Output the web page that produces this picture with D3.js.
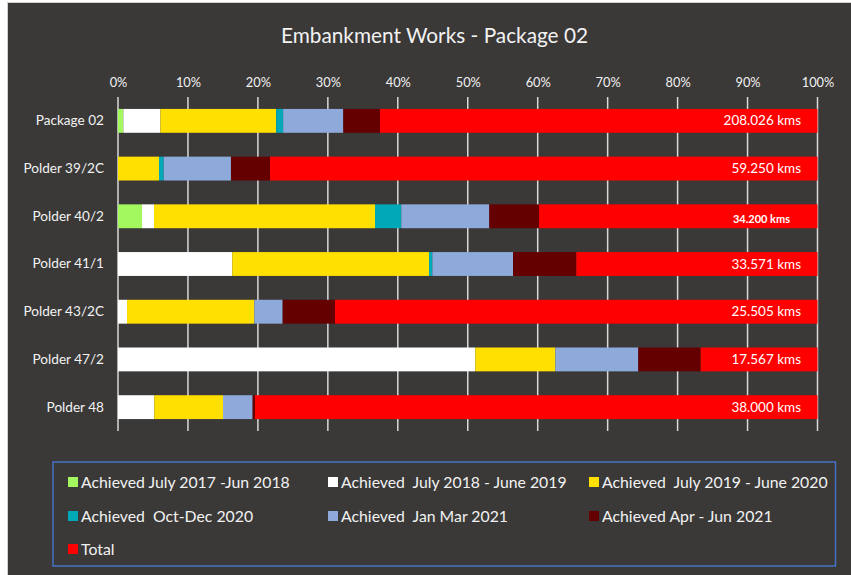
<!DOCTYPE html>
<html><head><meta charset="utf-8">
<script src="https://cdn.jsdelivr.net/npm/d3@7"></script>
<style>
html,body{margin:0;padding:0;background:#fff;}
svg{display:block;font-family:Lato,"Open Sans",sans-serif;}
</style></head>
<body>
<svg id="c" width="851" height="575"></svg>
<script>
const categories = ["Package 02","Polder 39/2C","Polder 40/2","Polder 41/1","Polder 43/2C","Polder 47/2","Polder 48"];
const seriesNames = ["Achieved July 2017 -Jun 2018","Achieved  July 2018 - June 2019","Achieved  July 2019 - June 2020","Achieved  Oct-Dec 2020","Achieved  Jan Mar 2021","Achieved Apr - Jun 2021","Total"];
const seriesColors = ["#a3f75f","#ffffff","#ffe000","#00a8b8","#8eaadb","#640000","#ff0000"];
// percent of each row
const achieved1718 = [0.76, 0, 3.43, 0, 0, 0, 0];
const achieved1819 = [5.30, 0, 1.72, 16.34, 1.29, 51.08, 5.19];
const achieved1920 = [16.55, 5.86, 31.59, 28.12, 18.20, 11.44, 9.82];
const achievedOctDec20 = [1.00, 0.67, 3.76, 0.48, 0, 0, 0];
const achievedJanMar21 = [8.60, 9.62, 12.58, 11.53, 4.05, 11.86, 4.24];
const achievedAprJun21 = [5.25, 5.58, 7.11, 9.05, 7.48, 8.92, 0.33];
const totalRemaining = [62.54, 78.27, 39.81, 34.48, 68.98, 16.70, 80.42];
const totalLabels = ["208.026 kms","59.250 kms","34.200 kms","33.571 kms","25.505 kms","17.567 kms","38.000 kms"];
const tickValues = [0,0.1,0.2,0.3,0.4,0.5,0.6,0.7,0.8,0.9,1];

const seriesValues = [achieved1718, achieved1819, achieved1920, achievedOctDec20, achievedJanMar21, achievedAprJun21, totalRemaining];
const rows = categories.map((c,i)=>{const o={cat:c}; seriesNames.forEach((s,j)=>o[s]=seriesValues[j][i]); return o;});

const svg = d3.select("#c");
svg.append("rect").attr("x",7.5).attr("y",2.5).attr("width",850).attr("height",580)
  .attr("fill","#3a3938").attr("stroke","#d0d0d0").attr("stroke-width",1);

svg.append("text").attr("x",434.5).attr("y",43).attr("text-anchor","middle")
  .attr("fill","#f2f2f2").attr("font-size",20.8).text("Embankment Works - Package 02");

const x = d3.scaleLinear().domain([0,1]).range([118,817.5]);
const y = d3.scaleBand().domain(categories).range([97,431]).paddingInner(0.5).paddingOuter(0.25);

svg.append("g").selectAll("line").data(tickValues).join("line")
  .attr("x1",d=>x(d)).attr("x2",d=>x(d)).attr("y1",97).attr("y2",431)
  .attr("stroke","#d9d9d9").attr("stroke-width",1.5);

const ax = svg.append("g").attr("transform","translate(0,87)")
  .call(d3.axisTop(x).tickValues(tickValues).tickFormat(d3.format(".0%")).tickSize(0).tickPadding(0));
ax.select(".domain").remove();
ax.selectAll("text").attr("fill","#f2f2f2").attr("font-size",12.8).attr("font-family","Lato");

const ay = svg.append("g").attr("transform","translate(104,0)")
  .call(d3.axisLeft(y).tickSize(0).tickPadding(0));
ay.select(".domain").remove();
ay.selectAll("text").attr("fill","#f2f2f2").attr("font-size",13.6).attr("font-family","Lato");

const stack = d3.stack().keys(seriesNames).offset(d3.stackOffsetExpand);
const stacked = stack(rows);
svg.append("g").selectAll("g").data(stacked).join("g")
  .attr("fill",(d,i)=>seriesColors[i])
  .selectAll("rect").data(d=>d).join("rect")
  .attr("x",d=>x(d[0])).attr("width",d=>Math.max(0,x(d[1])-x(d[0])))
  .attr("y",d=>y(d.data.cat)).attr("height",y.bandwidth());

svg.append("g").selectAll("text").data(categories).join("text")
  .attr("x",(d,i)=>i===2?790:801).attr("y",(d,i)=>y(d)+y.bandwidth()/2 + (i===2?7:4.5))
  .attr("text-anchor","end").attr("fill","#ffffff")
  .attr("font-size",(d,i)=>i===2?11:13.5).attr("font-weight",(d,i)=>i===2?700:400)
  .text((d,i)=>totalLabels[i]);

svg.append("rect").attr("x",53).attr("y",462).attr("width",782.5).attr("height",104)
  .attr("fill","none").attr("stroke","#4472c4").attr("stroke-width",1.5);
const lx = [68,328,589], ly = [482,516,549];
const lg = svg.append("g").selectAll("g").data(seriesNames).join("g")
  .attr("transform",(d,i)=>`translate(${lx[i%3]},${ly[Math.floor(i/3)]})`);
lg.append("rect").attr("x",0).attr("y",-5).attr("width",10).attr("height",10).attr("fill",(d,i)=>seriesColors[i]);
lg.append("text").attr("x",13).attr("y",5.5).attr("fill","#f2f2f2").attr("font-size",15.8)
  .attr("xml:space","preserve").style("white-space","pre").text(d=>d);
</script>
</body></html>
